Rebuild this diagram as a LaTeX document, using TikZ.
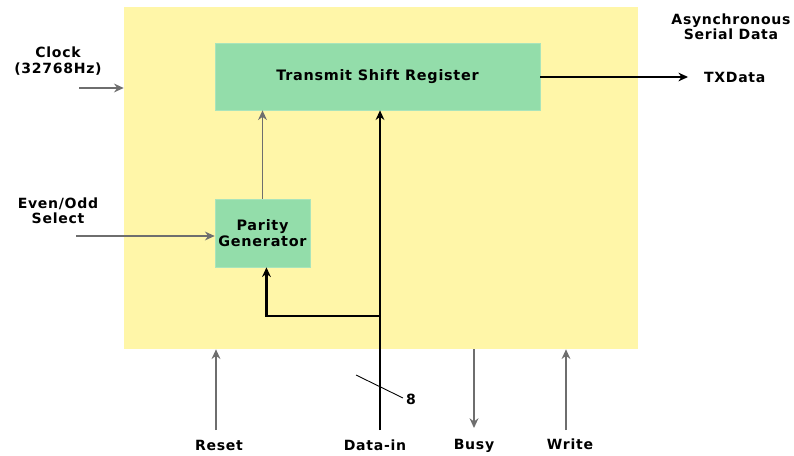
\documentclass[tikz,border=0pt]{standalone}
\usepackage{fontspec}
\setmainfont{DejaVu Sans}
\newfontfamily\lblfont[LetterSpace=5]{DejaVu Sans}
\usepackage{tikz}
\usetikzlibrary{arrows.meta,positioning}
\definecolor{chipyellow}{HTML}{FFF6A8}
\definecolor{blkgreen}{HTML}{93DDAA}
\definecolor{sig}{HTML}{6E6E6E}
\tikzset{blk/.style={rectangle,fill=blkgreen,draw=blkgreen!80!white,align=center,inner sep=0pt,font=\lblfont\bfseries\fontsize{8.2}{9.2}\selectfont},
lbl/.style={align=center,inner sep=1pt,font=\lblfont\bfseries\fontsize{8}{8.8}\selectfont},
sigarr/.style={sig,line width=1pt,-{Stealth[length=5.5pt,width=5pt]}},
bus/.style={black,line width=1.5pt}}

\begin{document}
\begin{tikzpicture}[>={Stealth[length=5.5pt,width=5pt]},x=0.02cm,y=-0.02cm]
        \useasboundingbox (0,0) rectangle (794,456);
        \node[fill=chipyellow,minimum width=10.28cm,minimum height=6.84cm,inner sep=0pt] (chip)at (381,178) {};
        \node[blk,minimum width=6.5cm,minimum height=1.34cm] (tsr)at (377.5,76.5) {Transmit Shift Register};
        \node[blk,minimum width=1.9cm,minimum height=1.36cm] (par)at (262.5,233) {Parity\\Generator};

        \node[lbl] (clk)at (58,61) {Clock\\(32768Hz)};
        \node[lbl] (eo)at (58,211) {Even/Odd\\Select};
        \node[lbl] (asd)at (731,27) {Asynchronous\\Serial Data};
        \node[lbl,anchor=west] (txd)at (702,77) {TXData};
        \node[lbl] (rst)at (219,445) {Reset};
        \node[lbl] (dat)at (375,445) {Data-in};
        \node[lbl] (bsy)at (474,446) {Busy};
        \node[lbl] (wr)at (570,444) {Write};
        \node[lbl,anchor=west] (w8)at (404,399) {8};

        \coordinate (clkin)at (79,88);
        \coordinate (eoin)at (76,236);
        \coordinate (txout)at (688,77);
        \coordinate (rstin)at (216,430);
        \coordinate (datin)at (380,430);
        \coordinate (bsyout)at (474,428);
        \coordinate (wrin)at (566,430);
        \coordinate (br)at (380,316);
        \coordinate (sla)at (356,375);
        \coordinate (slb)at (403,398);

        \draw [sigarr] (clkin) -- (clkin -| chip.west);
        \draw [sigarr] (eoin) -- (eoin -| par.west);
        \draw [sigarr] (par.north) -- (par.north |- tsr.south);
        \draw [black,line width=0.6pt,->] (tsr.east |- txout) -- (txout);
        \draw [bus,->] (datin) -- (datin |- tsr.south);
        \draw [bus,->] (br) -| ([xshift=1.5\pgflinewidth]par.south);
        \draw [black,line width=0.5pt] (sla) -- (slb);
        \draw [sigarr] (rstin) -- (rstin |- chip.south);
        \draw [sigarr] (bsyout |- chip.south) -- (bsyout);
        \draw [sigarr] (wrin) -- (wrin |- chip.south);
    \end{tikzpicture}
\end{document}
